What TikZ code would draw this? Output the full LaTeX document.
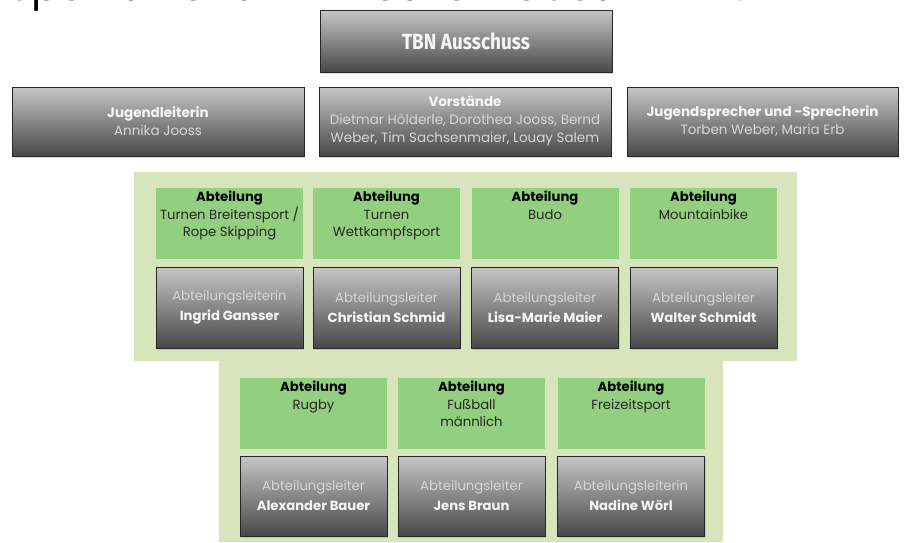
\documentclass[tikz,border=0pt]{standalone}
\usepackage{fontspec}
\setmainfont{Poppins}
\newfontfamily\condfont{Fira Sans}
\usetikzlibrary{shadows}
\definecolor{panel}{RGB}{215,228,188}
\definecolor{abtgreen}{RGB}{146,207,126}
\definecolor{gtop}{RGB}{198,198,198}
\definecolor{gbot}{RGB}{72,72,72}
\definecolor{gborder}{RGB}{38,38,38}
\definecolor{lighttxt}{RGB}{214,214,214}
\definecolor{nametxt}{RGB}{246,246,246}
\definecolor{darktxt}{RGB}{38,38,38}
\newcommand{\abtcontent}[1]{\parbox[c][71pt][t]{147pt}{\centering\fontsize{13.2}{17.5}\selectfont\vspace{3pt}{\bfseries\color{black}Abteilung}\\{\color{darktxt}#1}\par}}
\newcommand{\leitcontent}[2]{{\color{lighttxt}#1}\\{\bfseries\color{nametxt}#2}}
\begin{document}
\begin{tikzpicture}[x=1pt,y=-1pt,
  greybox/.style={draw=gborder, line width=0.8pt, top color=gtop, bottom color=gbot,
    drop shadow={opacity=0.25, shadow xshift=1.2pt, shadow yshift=-1.8pt},
    inner sep=0pt, align=center, font=\fontsize{13.2}{20}\selectfont},
  leitbox/.style={greybox, minimum width=147pt, minimum height=81pt},
  topbox/.style={greybox, minimum height=69pt, font=\fontsize{13.5}{18}\selectfont},
  abtbox/.style={fill=abtgreen, inner sep=0pt, minimum width=147pt, minimum height=71pt}
]
\useasboundingbox (0,0) rectangle (908,542);
% title (cut off at the top, as in the original)
\node[anchor=base west, inner sep=0pt, font=\fontsize{41.5}{41.5}\selectfont] (title) at (7,0) {Spartenleiter TB Neckarhausen 2023};
% green panel
\fill[panel] (134,172) -- (797,172) -- (797,361) -- (723,361) -- (723,542) -- (219,542) -- (219,361) -- (134,361) -- cycle;
% TBN Ausschuss
\node[greybox, minimum width=292pt, minimum height=62pt, font=\condfont\bfseries\fontsize{22}{22}\selectfont, text=nametxt] (tbn) at (466,41) {\scalebox{0.86}[1]{TBN Ausschuss}};
% second row
\node[topbox, minimum width=292pt] (jl) at (158,121.5) {{\bfseries\color{nametxt}Jugendleiterin}\\{\color{lighttxt}Annika Jooss}};
\node[topbox, minimum width=292pt] (vs) at (465,121.5) {{\bfseries\color{nametxt}Vorstände}\\{\color{lighttxt}Dietmar Hölderle, Dorothea Jooss, Bernd}\\{\color{lighttxt}Weber, Tim Sachsenmaier, Louay Salem}};
\node[topbox, minimum width=271pt] (js) at (762.5,121.5) {{\bfseries\color{nametxt}Jugendsprecher und -Sprecherin}\\{\color{lighttxt}Torben Weber, Maria Erb}};
% upper departments
\node[abtbox] (a1) at (229.5,223.5) {\abtcontent{Turnen Breitensport /\\Rope Skipping}};
\node[abtbox] (a2) at (386.5,223.5) {\abtcontent{Turnen\\Wettkampfsport}};
\node[abtbox] (a3) at (545,223.5) {\abtcontent{Budo}};
\node[abtbox] (a4) at (703.5,223.5) {\abtcontent{Mountainbike}};
\node[leitbox] (l1) at (229.5,307.5) {\leitcontent{Abteilungsleiterin}{Ingrid Gansser}};
\node[leitbox] (l2) at (386.5,307.5) {\leitcontent{Abteilungsleiter}{Christian Schmid}};
\node[leitbox] (l3) at (545,307.5) {\leitcontent{Abteilungsleiter}{Lisa-Marie Maier}};
\node[leitbox] (l4) at (703.5,307.5) {\leitcontent{Abteilungsleiter}{Walter Schmidt}};
% lower departments
\node[abtbox] (a5) at (313.5,413.5) {\abtcontent{Rugby}};
\node[abtbox] (a6) at (471.5,413.5) {\abtcontent{Fußball\\männlich}};
\node[abtbox] (a7) at (631,413.5) {\abtcontent{Freizeitsport}};
\node[leitbox, minimum height=80pt] (l5) at (313.5,496) {\leitcontent{Abteilungsleiter}{Alexander Bauer}};
\node[leitbox, minimum height=80pt] (l6) at (471.5,496) {\leitcontent{Abteilungsleiter}{Jens Braun}};
\node[leitbox, minimum height=80pt] (l7) at (631,496) {\leitcontent{Abteilungsleiterin}{Nadine Wörl}};
\end{tikzpicture}
\end{document}
